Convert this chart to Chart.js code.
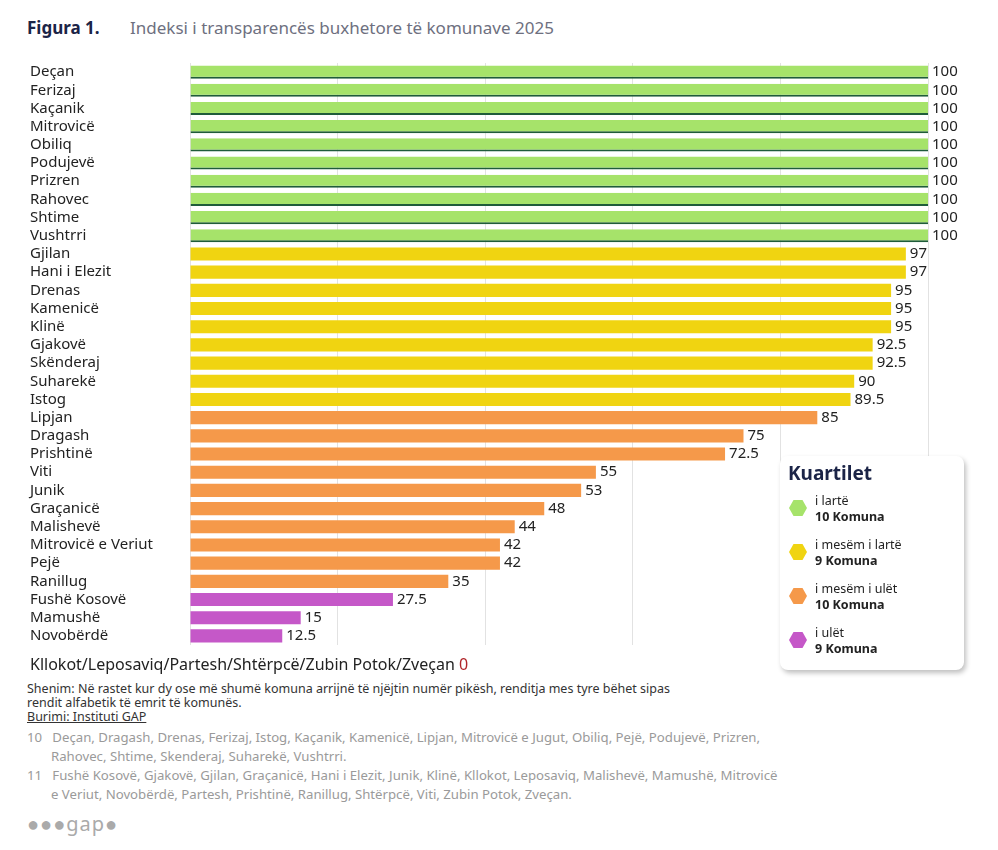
<!DOCTYPE html>
<html><head><meta charset="utf-8">
<script src="https://cdn.jsdelivr.net/npm/chart.js@4"></script>
<style>
body{margin:0;width:998px;height:850px;background:#fff;font-family:"Noto Sans",sans-serif;position:relative;overflow:hidden}
.t{position:absolute;white-space:nowrap}
#wrap{position:absolute;left:0;top:55px;width:998px;height:600px}
.leg{position:absolute;left:780px;top:456px;width:184px;height:214px;background:#fff;border-radius:8px;box-shadow:2px 3px 5px rgba(0,0,0,0.25)}
.hex{position:absolute;width:18px;height:16px;clip-path:polygon(25% 0,75% 0,100% 50%,75% 100%,25% 100%,0 50%)}
</style></head><body>
<div class="t" style="left:27px;top:16px;font-size:17px;font-weight:bold;color:#1b2447">Figura 1.</div>
<div class="t" style="left:130px;top:16px;font-size:17px;color:#6e7080">Indeksi i transparencës buxhetore të komunave 2025</div>
<div id="wrap"><canvas id="c"></canvas></div>
<div class="t" style="left:30px;top:653px;font-size:16px;color:#222">Kllokot/Leposaviq/Partesh/Shtërpcë/Zubin Potok/Zveçan <span style="color:#b0262a">0</span></div>
<div class="t" style="left:27px;top:682px;font-size:12.5px;color:#333;line-height:14px">Shenim: Në rastet kur dy ose më shumë komuna arrijnë të njëjtin numër pikësh, renditja mes tyre bëhet sipas<br>rendit alfabetik të emrit të komunës.<br><u>Burimi: Instituti GAP</u></div>
<div class="t" style="left:27px;top:728px;font-size:13.2px;color:#9a9a9a;line-height:19px">10&nbsp;&nbsp;&nbsp;Deçan, Dragash, Drenas, Ferizaj, Istog, Kaçanik, Kamenicë, Lipjan, Mitrovicë e Jugut, Obiliq, Pejë, Podujevë, Prizren,<br>&nbsp;&nbsp;&nbsp;&nbsp;&nbsp;&nbsp;&nbsp;Rahovec, Shtime, Skenderaj, Suharekë, Vushtrri.<br>11&nbsp;&nbsp;&nbsp;Fushë Kosovë, Gjakovë, Gjilan, Graçanicë, Hani i Elezit, Junik, Klinë, Kllokot, Leposaviq, Malishevë, Mamushë, Mitrovicë<br>&nbsp;&nbsp;&nbsp;&nbsp;&nbsp;&nbsp;&nbsp;e Veriut, Novobërdë, Partesh, Prishtinë, Ranillug, Shtërpcë, Viti, Zubin Potok, Zveçan.</div>
<div class="t" style="left:27px;top:810px;font-size:20px;color:#aaa;letter-spacing:1px">●●●gap●</div>
<div class="leg">
<div class="t" style="left:8px;top:4px;font-size:19px;font-weight:bold;color:#1b2447">Kuartilet</div>
<div class="hex" style="left:9px;top:44px;background:#a6e36a"></div>
<div class="t" style="left:35px;top:37px;font-size:12.5px;color:#222;line-height:16px">i lartë<br><b>10 Komuna</b></div>
<div class="hex" style="left:9px;top:88px;background:#f0d411"></div>
<div class="t" style="left:35px;top:81px;font-size:12.5px;color:#222;line-height:16px">i mesëm i lartë<br><b>9 Komuna</b></div>
<div class="hex" style="left:9px;top:132px;background:#f5994a"></div>
<div class="t" style="left:35px;top:125px;font-size:12.5px;color:#222;line-height:16px">i mesëm i ulët<br><b>10 Komuna</b></div>
<div class="hex" style="left:9px;top:176px;background:#c558c8"></div>
<div class="t" style="left:35px;top:169px;font-size:12.5px;color:#222;line-height:16px">i ulët<br><b>9 Komuna</b></div>
</div>
<script>
const municipalities = ['Deçan','Ferizaj','Kaçanik','Mitrovicë','Obiliq','Podujevë','Prizren','Rahovec','Shtime','Vushtrri',
  'Gjilan','Hani i Elezit','Drenas','Kamenicë','Klinë','Gjakovë','Skënderaj','Suharekë','Istog',
  'Lipjan','Dragash','Prishtinë','Viti','Junik','Graçanicë','Malishevë','Mitrovicë e Veriut','Pejë','Ranillug',
  'Fushë Kosovë','Mamushë','Novobërdë'];
const scores = [100,100,100,100,100,100,100,100,100,100,97,97,95,95,95,92.5,92.5,90,89.5,85,75,72.5,55,53,48,44,42,42,35,27.5,15,12.5];
const quartile = [0,0,0,0,0,0,0,0,0,0,1,1,1,1,1,1,1,1,1,2,2,2,2,2,2,2,2,2,2,3,3,3];
const quartileColors = ['#a6e36a','#f0d411','#f5994a','#c558c8'];

const labelPlugin = {
  id: 'labels',
  afterDatasetsDraw(chart) {
    const ctx = chart.ctx, meta = chart.getDatasetMeta(0);
    ctx.save();
    ctx.font = '15px "Noto Sans"';
    ctx.fillStyle = '#222';
    ctx.textBaseline = 'middle';
    meta.data.forEach((bar, i) => {
      ctx.textAlign = 'left';
      ctx.fillText(municipalities[i], 30, bar.y);
      ctx.fillText(String(scores[i]), bar.x + 4, bar.y);
    });
    ctx.restore();
  }
};

new Chart(document.getElementById('c'), {
  type: 'bar',
  data: {
    labels: municipalities,
    datasets: [{
      data: scores,
      backgroundColor: quartile.map(q => quartileColors[q]),
      borderColor: '#1f5c3a',
      borderWidth: quartile.map(q => q === 0 ? {bottom: 2, top: 0, left: 0, right: 0} : 0),
      borderSkipped: false,
      categoryPercentage: 1,
      barPercentage: 0.72
    }]
  },
  options: {
    indexAxis: 'y',
    responsive: true,
    maintainAspectRatio: false,
    animation: false,
    layout: { padding: { left: 190, right: 70, top: 8, bottom: 10 } },
    plugins: { legend: { display: false }, tooltip: { enabled: false } },
    scales: {
      x: { min: 0, max: 100,
        ticks: { display: false, stepSize: 20 },
        grid: { color: '#e2e2e2', drawTicks: false },
        border: { display: false } },
      y: { display: false }
    }
  },
  plugins: [labelPlugin]
});
</script>
</body></html>
